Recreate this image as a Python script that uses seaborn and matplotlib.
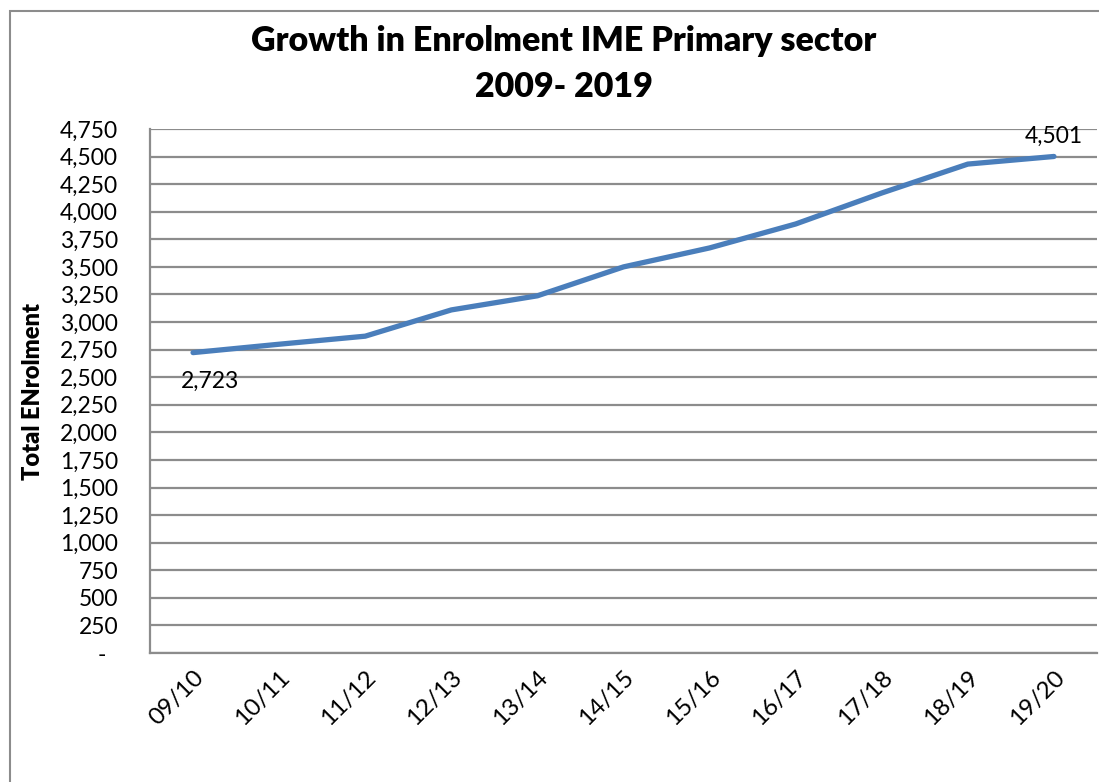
import pandas as pd
import matplotlib
matplotlib.use("Agg")
import matplotlib.pyplot as plt
from matplotlib.patches import Rectangle
import seaborn as sns

# data
years = ["09/10", "10/11", "11/12", "12/13", "13/14", "14/15",
         "15/16", "16/17", "17/18", "18/19", "19/20"]
enrolment = [2723, 2799, 2872, 3110, 3238, 3500, 3672, 3889, 4170, 4432, 4501]
y_ticks = list(range(0, 5000, 250))
y_tick_labels = ["-  " if v == 0 else f"{v:,}" for v in y_ticks]

df = pd.DataFrame({"year": years, "enrolment": enrolment})

sns.set_style("white")
plt.rcParams["font.family"] = ["Lato", "DejaVu Sans"]
plt.rcParams["text.color"] = "black"
plt.rcParams["xtick.color"] = "black"
plt.rcParams["ytick.color"] = "black"
plt.rcParams["axes.labelcolor"] = "black"

fig = plt.figure(figsize=(10.99, 7.82), dpi=100)
ax = fig.add_axes([150 / 1099, 1 - 653 / 782, 947 / 1099, 524 / 782])

sns.lineplot(data=df, x="year", y="enrolment", ax=ax,
             color="#4a7ebb", linewidth=3.8, sort=False)

ax.set_xlim(-0.5, len(years) - 0.5)
ax.set_ylim(0, 4750)
ax.set_yticks(y_ticks)
ax.set_yticklabels(y_tick_labels, fontsize=16.5)
ax.yaxis.grid(True, color="#8c8c8c", linewidth=1.6)
ax.set_axisbelow(True)
ax.tick_params(axis="y", length=0, pad=23)
ax.tick_params(axis="x", length=0, pad=10)
plt.setp(ax.get_xticklabels(), rotation=45, ha="right",
         rotation_mode="anchor", fontsize=17.5)

for side in ["top", "right"]:
    ax.spines[side].set_visible(False)
for side in ["left", "bottom"]:
    ax.spines[side].set_color("#8c8c8c")
    ax.spines[side].set_linewidth(1.6)

ax.set_xlabel("")
ax.set_ylabel("Total ENrolment", fontsize=17, fontweight="heavy")
ax.yaxis.set_label_coords(-0.112, 0.5)

# end point labels
ax.annotate(f"{enrolment[0]:,}", (0, enrolment[0]), xytext=(17, -29),
            textcoords="offset pixels", ha="center", va="center", fontsize=16.5)
ax.annotate(f"{enrolment[-1]:,}", (len(years) - 1, enrolment[-1]), xytext=(0, 20),
            textcoords="offset pixels", ha="center", va="center", fontsize=16.5)

fig.text(0.513, 1 - 64 / 782, "Growth in Enrolment IME Primary sector\n2009- 2019",
         ha="center", va="center", fontsize=24.5, fontweight="heavy", linespacing=1.55)

# chart frame, cut off on the right and bottom like the reference
fig.patches.append(Rectangle((10 / 1099, -0.1), 1.2, 1.1 - 11 / 782,
                             transform=fig.transFigure, fill=False,
                             edgecolor="#8c8c8c", linewidth=1.5))

fig.savefig("out.png", dpi=100)
